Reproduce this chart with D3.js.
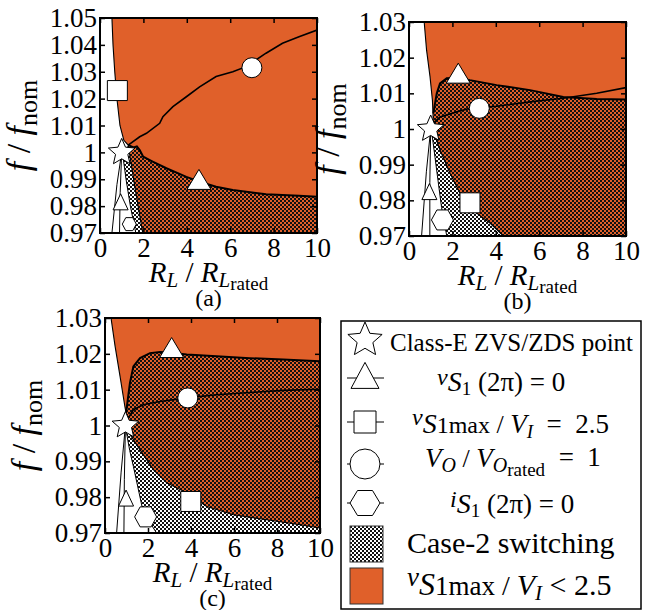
<!DOCTYPE html>
<html>
<head>
<meta charset="utf-8">
<script src="https://cdn.jsdelivr.net/npm/d3@7"></script>
<style>
body { margin: 0; background: #fff; }
svg text { font-family: "Liberation Serif", "Times New Roman", serif; }
</style>
</head>
<body>
<svg id="chart" width="659" height="610"></svg>
<script>
// ---- values ----
var xTicks = [0, 2, 4, 6, 8, 10];
var yTicksA = [0.97, 0.98, 0.99, 1, 1.01, 1.02, 1.03, 1.04, 1.05];
var yTicksBC = [0.97, 0.98, 0.99, 1, 1.01, 1.02, 1.03];

// (a)
var sqA = [[0.55,1.05],[0.6,1.04],[0.68,1.03],[0.78,1.02],[0.92,1.01],[1.1,1.0045],[1.3,1.0027],[1.45,0.995],[1.65,0.985],[1.82,0.977],[1.97,0.97]];
var triA = [[1.3,1.0027],[1.55,1.0018],[1.7,1.0022],[1.83,1.0009],[1.99,0.9984],[2.45,0.9965],[3.06,0.9941],[3.98,0.9909],[4.59,0.9891],[5.35,0.9872],[6.12,0.986],[7.65,0.9844],[9.17,0.9839],[10,0.9835]];
var cirA = [[1.3,1.0027],[1.83,1.0058],[2.14,1.0071],[2.75,1.0108],[2.9,1.0133],[3.36,1.017],[3.98,1.0207],[4.59,1.0244],[5.35,1.0282],[6.12,1.03],[6.73,1.0319],[7.65,1.0369],[8.41,1.0406],[9.17,1.043],[10,1.0455]];
var hexA = [[1.05,0.999],[1.2,0.99],[1.4,0.98],[1.65,0.97]];
var wedgeA = [[0.55,0.97],[0.78,0.988],[1.0,1.0],[0.93,0.985],[0.9,0.97]];
var markA = [['square',0.8,1.023],['circle',7.0,1.0315],['triangle',4.56,0.9892],['triangleS',0.95,0.981],['hexagonS',1.35,0.9733],['star',1.0,1.0]];

// (b)
var sqB = [[0.7,1.03],[0.81,1.0221],[0.97,1.0146],[1.08,1.008],[1.12,1.002],[1.2,0.998],[1.43,0.9941],[1.89,0.9876],[2.35,0.982],[3.12,0.9764],[3.73,0.9736],[4.35,0.97]];
var triB = [[1.12,1.0044],[1.28,1.01],[1.43,1.0128],[1.74,1.0142],[2.27,1.0144],[2.81,1.0137],[4.04,1.0123],[5.58,1.0109],[7.11,1.009],[8.65,1.0084],[10,1.0083]];
var cirB = [[1.1,1.0015],[1.43,1.0034],[2.2,1.0048],[2.81,1.0058],[4.04,1.0064],[5.58,1.0076],[7.11,1.0086],[8.65,1.01],[10,1.0116]];
var hexB = [[1.05,0.999],[1.2,0.992],[1.35,0.985],[1.5,0.978],[1.74,0.97]];
var wedgeB = [[0.58,0.97],[0.8,0.988],[1.0,1.0],[0.96,0.985],[0.96,0.97]];
var markB = [['triangle',2.27,1.0151],['circle',3.24,1.0058],['square',2.81,0.9793],['triangleS',0.94,0.982],['hexagon',1.54,0.9745],['star',1.0,1.0]];

// (c)
var sqC = [[0.28,1.03],[0.47,1.0221],[0.7,1.0137],[0.93,1.0051],[0.98,1.0035],[1.0,0.999],[1.63,0.9932],[2.25,0.9877],[2.87,0.984],[3.8,0.9812],[4.73,0.9774],[5.97,0.9751],[7.52,0.9737],[9.07,0.9723],[10,0.9714]];
var triC = [[0.98,1.0035],[1.16,1.0119],[1.32,1.0165],[1.63,1.0188],[2.09,1.0202],[2.56,1.0205],[3.19,1.0202],[3.8,1.0198],[5.19,1.0193],[6.74,1.0188],[8.29,1.0184],[10,1.0179]];
var cirC = [[0.98,1.001],[1.32,1.0044],[1.78,1.0058],[2.56,1.0067],[3.8,1.0077],[5.19,1.0086],[6.74,1.0092],[8.29,1.0098],[10,1.0101]];
var hexC = [[1.0,0.998],[1.15,0.993],[1.32,0.9886],[1.78,0.9758],[2.4,0.97]];
var wedgeC = [[0.54,0.97],[0.75,0.987],[0.95,1.0],[0.9,0.985],[0.88,0.97]];
var markC = [['triangle',3.1,1.0212],['circle',3.85,1.0077],['square',3.99,0.9788],['triangleS',0.98,0.9793],['hexagon',1.89,0.9745],['star',0.95,1.0]];

var ORANGE = '#e0602a';
var svg = d3.select('#chart');
var defs = svg.append('defs');

// 2px checker used for the case-2 switching area
var pat = defs.append('pattern')
    .attr('id', 'chk')
    .attr('width', 4)
    .attr('height', 4)
    .attr('patternUnits', 'userSpaceOnUse');
pat.append('rect').attr('x', 0).attr('y', 0).attr('width', 2).attr('height', 2).attr('fill', '#111');
pat.append('rect').attr('x', 2).attr('y', 2).attr('width', 2).attr('height', 2).attr('fill', '#111');

function shape(type) {
    var p = d3.path();
    var w, h;
    if (type == 'square' || type == 'squareL') {
        w = type == 'square' ? 20 : 22;
        p.rect(-w / 2, -w / 2, w, w);
    } else if (type.indexOf('triangle') == 0) {
        w = {triangle: 24, triangleS: 15, triangleL: 28}[type];
        h = {triangle: 20, triangleS: 16, triangleL: 26}[type];
        p.moveTo(0, -h * 0.6); p.lineTo(w / 2, h * 0.4); p.lineTo(-w / 2, h * 0.4); p.closePath();
    } else if (type.indexOf('hexagon') == 0) {
        w = {hexagon: 22, hexagonS: 14, hexagonL: 30}[type];
        h = {hexagon: 20, hexagonS: 13, hexagonL: 25}[type];
        p.moveTo(-w / 2, 0); p.lineTo(-w / 4, -h / 2); p.lineTo(w / 4, -h / 2);
        p.lineTo(w / 2, 0); p.lineTo(w / 4, h / 2); p.lineTo(-w / 4, h / 2); p.closePath();
    } else if (type.indexOf('star') == 0) {
        var R = type == 'star' ? 14 : 18;
        for (var i = 0; i < 10; i++) {
            var r = i % 2 ? R * 0.46 : R;
            var a = -Math.PI / 2 + i * Math.PI / 5;
            if (i == 0) p.moveTo(r * Math.cos(a), r * Math.sin(a));
            else p.lineTo(r * Math.cos(a), r * Math.sin(a));
        }
        p.closePath();
    }
    return p.toString();
}

function drawMarker(g, type, cx, cy) {
    if (type.indexOf('circle') == 0) {
        g.append('circle')
            .attr('cx', cx).attr('cy', cy)
            .attr('r', type == 'circle' ? 10 : 15)
            .attr('fill', '#fff').attr('stroke', '#000').attr('stroke-width', 1);
    } else {
        g.append('path')
            .attr('transform', 'translate(' + [cx, cy] + ')')
            .attr('d', shape(type))
            .attr('fill', '#fff').attr('stroke', '#000').attr('stroke-width', 1);
    }
}

var panels = [
    {id: 'a', left: 100, right: 317, top: 18, bottom: 233, yMax: 1.05, yTicks: yTicksA,
     sq: sqA, tri: triA, cir: cirA, hex: hexA, wedge: wedgeA, marks: markA},
    {id: 'b', left: 409, right: 626, top: 22, bottom: 236, yMax: 1.03, yTicks: yTicksBC,
     sq: sqB, tri: triB, cir: cirB, hex: hexB, wedge: wedgeB, marks: markB},
    {id: 'c', left: 105, right: 320, top: 318, bottom: 533, yMax: 1.03, yTicks: yTicksBC,
     sq: sqC, tri: triC, cir: cirC, hex: hexC, wedge: wedgeC, marks: markC}
];

panels.forEach(function (p) {
    var x = d3.scaleLinear().domain([0, 10]).range([p.left, p.right]);
    var y = d3.scaleLinear().domain([0.97, p.yMax]).range([p.bottom, p.top]);
    var line = d3.line().x(function (d) { return x(d[0]); }).y(function (d) { return y(d[1]); });

    defs.append('clipPath').attr('id', 'clip-' + p.id)
        .append('rect')
        .attr('x', p.left).attr('y', p.top)
        .attr('width', p.right - p.left).attr('height', p.bottom - p.top);

    var g = svg.append('g');
    var plot = g.append('g').attr('clip-path', 'url(#clip-' + p.id + ')');

    // orange: right of the vS1max/VI = 2.5 curve
    var last = p.sq[p.sq.length - 1];
    var orange = p.sq.concat([[10, last[1]], [10, p.yMax]]);
    plot.append('path').attr('d', line(orange) + 'Z').attr('fill', ORANGE);

    // case-2: right of iS1 = 0 and below vS1(2pi) = 0
    var case2 = p.hex.concat([[10, 0.97]], p.tri.slice().reverse());
    plot.append('path').attr('d', line(case2) + 'Z').attr('fill', 'url(#chk)');

    plot.append('path').attr('d', line(p.sq)).attr('fill', 'none').attr('stroke', '#000').attr('stroke-width', 1.1);
    plot.append('path').attr('d', line(p.hex)).attr('fill', 'none').attr('stroke', '#000').attr('stroke-width', 1);
    plot.append('path').attr('d', line(p.wedge)).attr('fill', 'none').attr('stroke', '#000').attr('stroke-width', 1);
    plot.append('path').attr('d', line(p.tri)).attr('fill', 'none').attr('stroke', '#000').attr('stroke-width', 2);
    plot.append('path').attr('d', line(p.cir)).attr('fill', 'none').attr('stroke', '#000').attr('stroke-width', 1.6);

    p.marks.forEach(function (m) {
        drawMarker(g, m[0], x(m[1]), y(m[2]));
    });

    // frame + inward ticks
    g.append('rect')
        .attr('x', p.left).attr('y', p.top)
        .attr('width', p.right - p.left).attr('height', p.bottom - p.top)
        .attr('fill', 'none').attr('stroke', '#000').attr('stroke-width', 2);

    var axL = g.append('g').attr('transform', 'translate(' + p.left + ',0)')
        .call(d3.axisLeft(y).tickValues(p.yTicks).tickSize(-5).tickPadding(3).tickFormat(d3.format('~g')));
    var axR = g.append('g').attr('transform', 'translate(' + p.right + ',0)')
        .call(d3.axisRight(y).tickValues(p.yTicks).tickSize(-5).tickFormat(''));
    var axB = g.append('g').attr('transform', 'translate(0,' + p.bottom + ')')
        .call(d3.axisBottom(x).tickValues(xTicks).tickSize(-5).tickPadding(5));
    var axT = g.append('g').attr('transform', 'translate(0,' + p.top + ')')
        .call(d3.axisTop(x).tickValues(xTicks).tickSize(-5).tickFormat(''));
    [axL, axR, axB, axT].forEach(function (a) {
        a.select('.domain').remove();
        a.selectAll('line').attr('stroke-width', 1.5);
        a.selectAll('text').attr('fill', '#000').style('font-size', '27px');
    });

    // y title
    var yt = g.append('text')
        .attr('transform', 'translate(' + [p.left - 70, (p.top + p.bottom) / 2] + ') rotate(-90)')
        .attr('text-anchor', 'middle')
        .style('font-size', '34px');
    yt.append('tspan').attr('font-style', 'italic').text('f');
    yt.append('tspan').text(' / ');
    yt.append('tspan').attr('font-style', 'italic').text('f');
    yt.append('tspan').style('font-size', '26px').attr('dy', 7).text('nom');

    // x title
    var xt = g.append('text')
        .attr('x', (p.left + p.right) / 2).attr('y', p.bottom + 49)
        .attr('text-anchor', 'middle')
        .style('font-size', '29px');
    xt.append('tspan').attr('font-style', 'italic').text('R');
    xt.append('tspan').attr('font-style', 'italic').style('font-size', '21px').attr('dy', 5).text('L');
    xt.append('tspan').attr('dy', -5).text(' / ');
    xt.append('tspan').attr('font-style', 'italic').text('R');
    xt.append('tspan').attr('font-style', 'italic').style('font-size', '21px').attr('dy', 5).text('L');
    xt.append('tspan').style('font-size', '19px').attr('dy', 3).text('rated');

    g.append('text')
        .attr('x', (p.left + p.right) / 2).attr('y', p.bottom + 73)
        .attr('text-anchor', 'middle')
        .style('font-size', '24px')
        .text('(' + p.id + ')');
});

// ---- legend ----
var leg = svg.append('g');
leg.append('rect')
    .attr('x', 341).attr('y', 321).attr('width', 300).attr('height', 288)
    .attr('fill', '#fff').attr('stroke', '#000').attr('stroke-width', 1.5);

var legRows = [
    {y: 340, mark: 'starL', tx: 390, parts: [['Class-E ZVS/ZDS point', 0, 25, 11]]},
    {y: 378, mark: 'triangleL', tx: 437, parts: [['v', 1, 24, 7], ['S', 1, 28, 6], ['1', 0, 19, 4], [' (2\u03c0) = 0', 0, 27, -4]]},
    {y: 422, mark: 'squareL', tx: 412, parts: [['v', 1, 24, 3], ['S', 1, 28, 8], ['1max', 0, 24, 0], [' / ', 0, 26, 0], ['V', 1, 27, 0], ['I', 1, 19, 5], ['  =  2.5', 0, 27, -5]]},
    {y: 464, mark: 'circleL', tx: 425, parts: [['V', 1, 27, 3], ['O', 1, 20, 5], [' / ', 0, 26, -5], ['V', 1, 27, 0], ['O', 1, 20, 5], ['rated', 0, 19, 4], ['  =  1', 0, 27, -10]]},
    {y: 503, mark: 'hexagonL', tx: 450, parts: [['i', 1, 24, 4], ['S', 1, 28, 6], ['1', 0, 19, 4], [' (2\u03c0) = 0', 0, 27, -4]]},
    {y: 544, swatch: 'url(#chk)', tx: 407, parts: [['Case-2 switching', 0, 30, 9]]},
    {y: 586, swatch: ORANGE, tx: 407, parts: [['v', 1, 27, 0], ['S', 1, 32, 9], ['1max', 0, 27, 0], [' / ', 0, 28, 0], ['V', 1, 30, 0], ['I', 1, 21, 5], [' < 2.5', 0, 30, -5]]}
];

legRows.forEach(function (r) {
    if (r.mark) {
        if (r.mark != 'starL') {
            leg.append('line')
                .attr('x1', 347).attr('x2', 384).attr('y1', r.y).attr('y2', r.y)
                .attr('stroke', '#000').attr('stroke-width', 1);
        }
        drawMarker(leg, r.mark, 365, r.y);
    } else {
        leg.append('rect')
            .attr('x', 350).attr('y', r.y - 18).attr('width', 33).attr('height', 36)
            .attr('fill', r.swatch).attr('stroke', '#333').attr('stroke-width', 1);
    }
    var t = leg.append('text')
        .attr('x', r.tx).attr('y', r.y)
        .style('white-space', 'pre');
    r.parts.forEach(function (s) {
        t.append('tspan')
            .attr('font-style', s[1] ? 'italic' : null)
            .style('font-size', s[2] + 'px')
            .attr('dy', s[3])
            .text(s[0]);
    });
});
</script>
</body>
</html>
